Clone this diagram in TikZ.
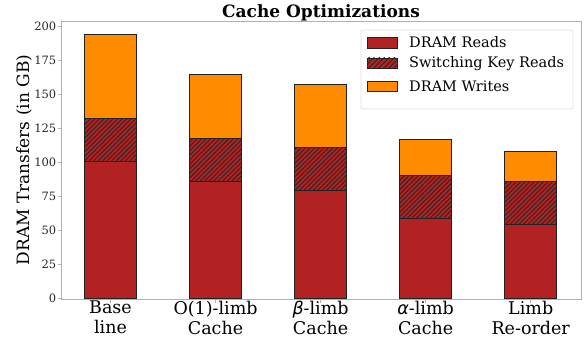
\documentclass[tikz,border=0pt]{standalone}
\usepackage{fontspec}
\setmainfont{DejaVu Serif}
\newfontfamily\grkfont{DejaVu Sans}
\usetikzlibrary{patterns.meta}
\definecolor{rdcol}{HTML}{B22222}
\definecolor{wrcol}{HTML}{FF8C00}
\definecolor{spinecol}{HTML}{B0B0B0}
\definecolor{edgecol}{HTML}{222222}
\newcommand{\vy}[1]{298.7-1.3635*#1}
\tikzset{
  barbox/.style={draw=edgecol, line width=1pt},
  readsbar/.style={barbox, fill=rdcol},
  writesbar/.style={barbox, fill=wrcol},
  hatchbar/.style={pattern={Lines[angle=45,distance=3.2pt,line width=0.9pt]}, pattern color=black!85},
  ticklab/.style={font=\fontsize{11.5}{13}\selectfont, text=black!85, anchor=east, inner sep=0pt},
  xlab/.style={font=\fontsize{17.5}{20}\selectfont, align=center, anchor=north, inner sep=0pt},
  leglab/.style={font=\fontsize{14.5}{16}\selectfont, anchor=west, inner sep=0pt},
}
\begin{document}
\begin{tikzpicture}[x=1pt,y=-1pt]
\useasboundingbox (0,0) rectangle (584,345);
% axes frame
\draw[spinecol, line width=1pt] (61,22) rectangle (581,299);
% y ticks
\foreach \v in {0,25,...,200}{
  \draw[spinecol, line width=0.9pt] (61,{\vy{\v}}) -- (57.5,{\vy{\v}});
  \node[ticklab] (yt\v) at (56.5,{\vy{\v}}) {\v};
}
% bars
\def\bw{26.25}
\foreach \i/\a/\b/\c/\lab in {
  0/100.5/132.3/193.4/{Base\\line},
  1/85.8/117.7/164.1/{O(1)-limb\\Cache},
  2/79/110.8/157/{{\grkfont\itshape β}-limb\\Cache},
  3/58.5/90.3/116.4/{{\grkfont\itshape α}-limb\\Cache},
  4/54.3/86.1/107.9/{Limb\\Re-order}}{
  \pgfmathsetmacro{\cx}{110.5+105.05*\i}
  \fill[wrcol] ({\cx-\bw},{\vy{\b}}) rectangle ({\cx+\bw},{\vy{\c}});
  \draw[barbox] ({\cx-\bw},{\vy{\b}}) rectangle ({\cx+\bw},{\vy{\c}});
  \fill[rdcol] ({\cx-\bw},{\vy{\a}}) rectangle ({\cx+\bw},{\vy{\b}});
  \fill[hatchbar] ({\cx-\bw},{\vy{\a}}) rectangle ({\cx+\bw},{\vy{\b}});
  \draw[barbox] ({\cx-\bw},{\vy{\a}}) rectangle ({\cx+\bw},{\vy{\b}});
  \draw[readsbar] ({\cx-\bw},{\vy{0}}) rectangle ({\cx+\bw},{\vy{\a}});
  \draw[spinecol, line width=0.9pt] (\cx,299) -- (\cx,302.5);
  \node[xlab] (xl\i) at (\cx,301) {\lab};
}
% y label
\node[rotate=90, font=\fontsize{17}{20}\selectfont, inner sep=0pt] (ylab) at (24.5,160) {DRAM Transfers (in GB)};
% title
\node[font=\bfseries\fontsize{17}{20}\selectfont, anchor=base, inner sep=0pt] (title) at (321,18) {Cache Optimizations};
% legend
\draw[draw=black!12, fill=white, rounded corners=2pt, line width=0.8pt] (361,30) rectangle (573,109);
\draw[readsbar, line width=0.9pt] (367,37) rectangle (397,48);
\fill[rdcol] (367,58) rectangle (397,68.5);
\fill[pattern={Lines[angle=45,distance=3.6pt,line width=0.9pt]}, pattern color=black!85] (367,58) rectangle (397,68.5);
\draw[barbox, line width=0.9pt] (367,58) rectangle (397,68.5);
\draw[writesbar, line width=0.9pt] (367,81) rectangle (397,91.5);
\node[leglab] (l1) at (409,42.5) {DRAM Reads};
\node[leglab] (l2) at (409,63.5) {Switching Key Reads};
\node[leglab] (l3) at (409,86.3) {DRAM Writes};
\end{tikzpicture}
\end{document}
